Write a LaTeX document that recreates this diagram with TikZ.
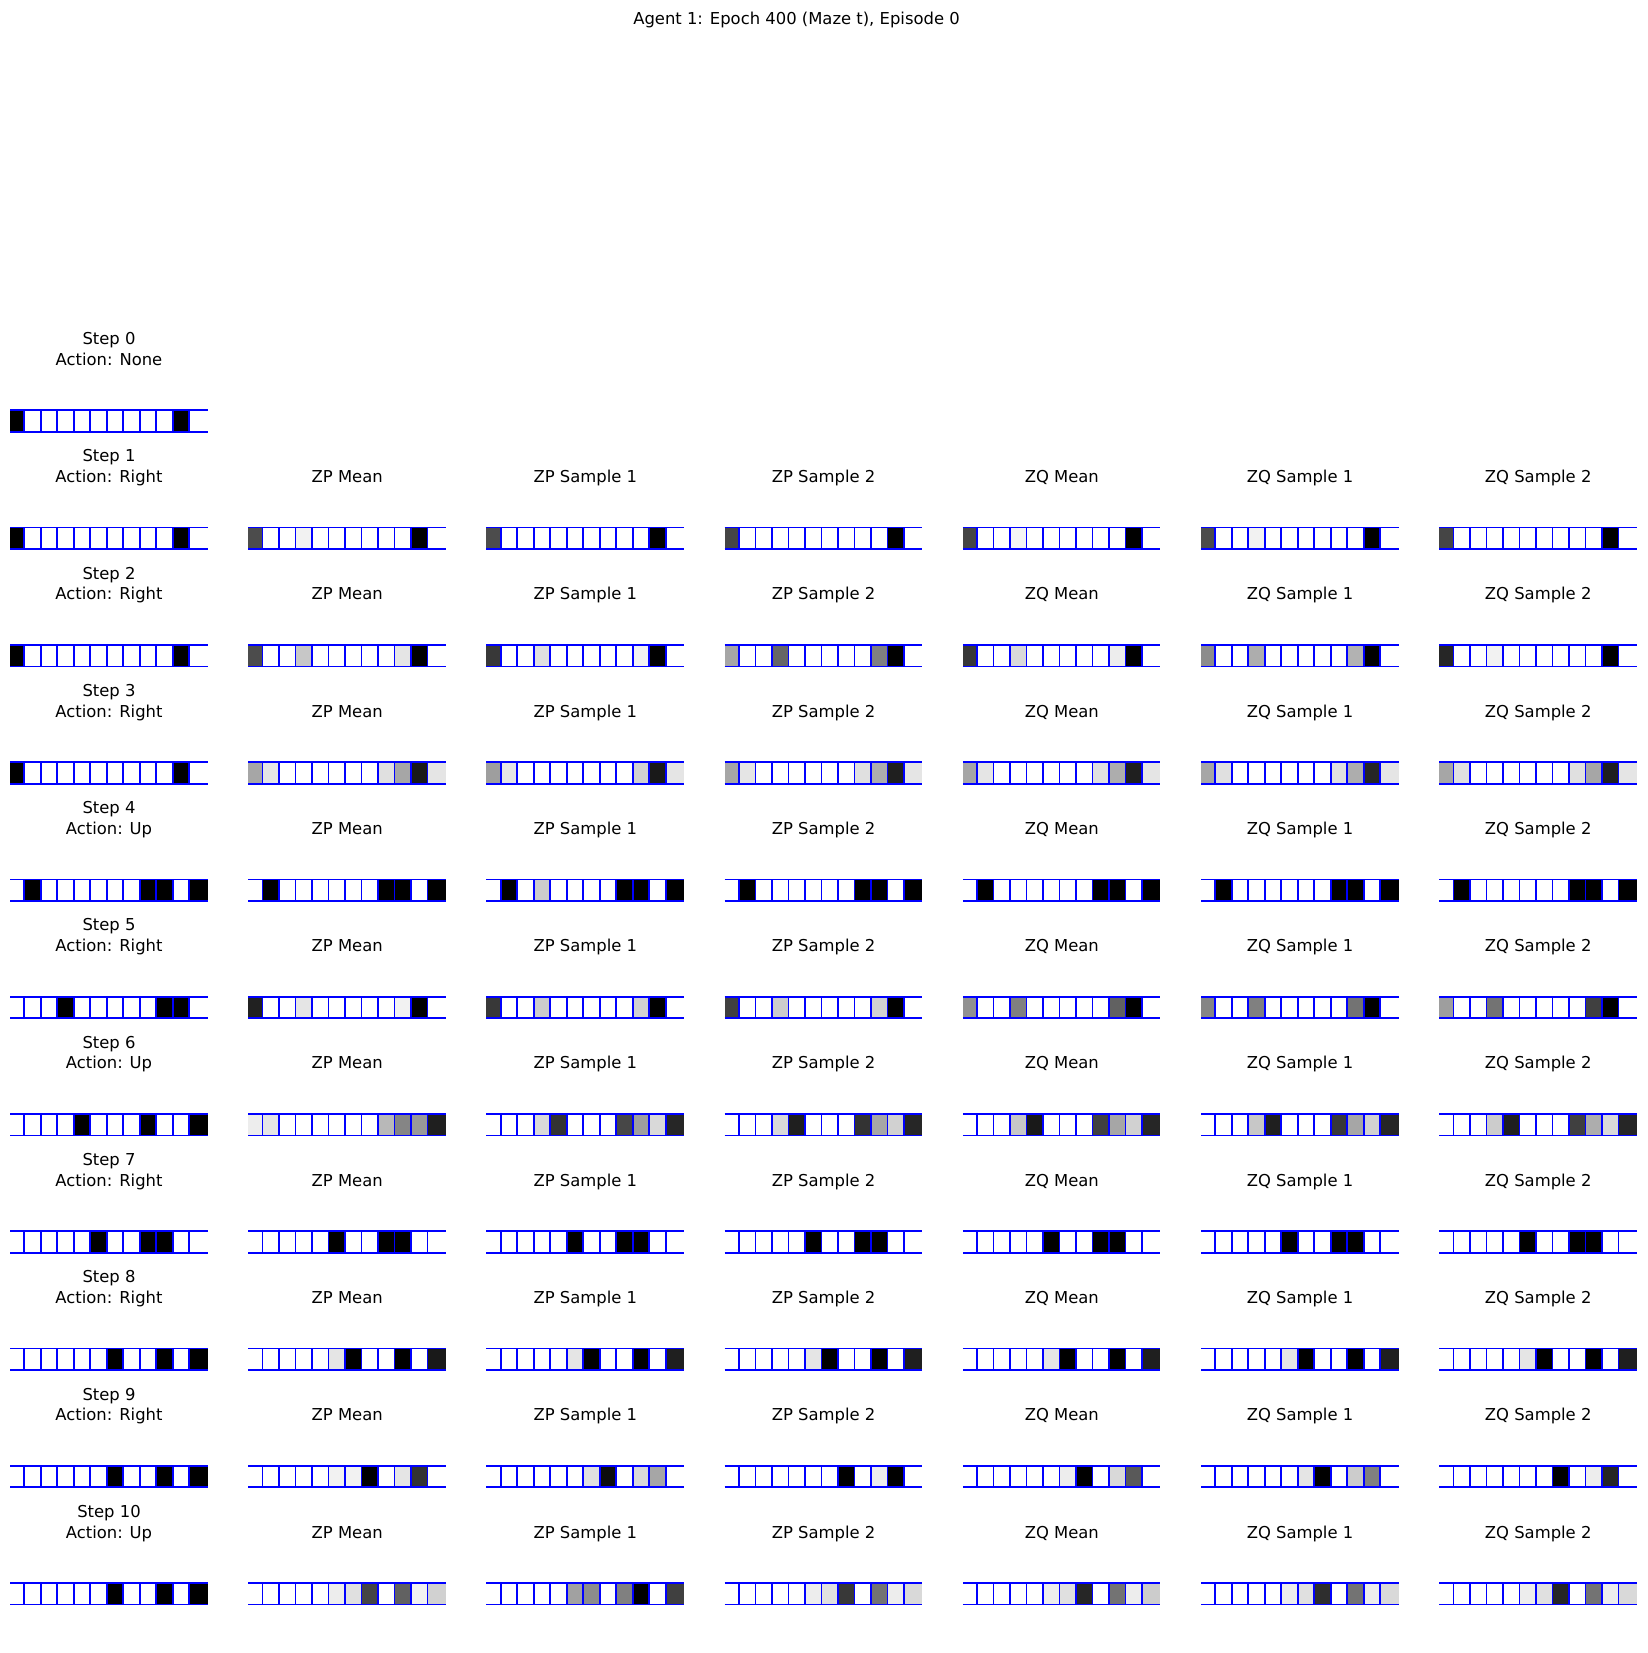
\documentclass[tikz,border=0pt]{standalone}
\usepackage{fontspec}
\setmainfont{DejaVu Sans}
\tikzset{
  gl/.style={draw={rgb,255:red,0;green,0;blue,255}, line width=1.7pt},
  ttl/.style={font=\fontsize{16.4}{20.7}\selectfont, anchor=base, inner sep=0pt}
}
\newcommand\mystrip[3]{%
  \foreach \v [count=\i from 0] in {#3} {%
    \ifnum\v<100\relax
      \pgfmathsetmacro\xa{#1+(\i>0)*(14.3+16.5*(\i-1))}%
      \pgfmathsetmacro\xb{#1+(\i<11)*(14.3+16.5*\i)+(\i==11)*197.5}%
      \fill[white!\v!black] (\xa,{#2}) rectangle (\xb,{#2+21.6});
    \fi
  }%
  \draw[gl] (#1,{#2}) -- ++(197.5,0);
  \draw[gl] (#1,{#2+21.6}) -- ++(197.5,0);
  \foreach \i in {1,...,11} {\draw[gl] ({#1+14.3+16.5*(\i-1)},{#2}) -- ++(0,21.6);}
}
\newcommand\steprow[8]{%
  \pgfmathsetmacro\ytop{410.3+117.27*#1}%
  \mystrip{10}{\ytop}{#2}%
  \mystrip{248.2}{\ytop}{#3}%
  \mystrip{486.4}{\ytop}{#4}%
  \mystrip{724.6}{\ytop}{#5}%
  \mystrip{962.8}{\ytop}{#6}%
  \mystrip{1201}{\ytop}{#7}%
  \mystrip{1439.2}{\ytop}{#8}%
}
\begin{document}
\begin{tikzpicture}[x=1pt,y=-1pt]
\useasboundingbox[fill=white] (0,0) rectangle (1647,1653);
\node[ttl] (title) at (796.5,25) {Agent 1: Epoch 400 (Maze t), Episode 0};
% step titles
\foreach \k/\act in {0/None,1/Right,2/Right,3/Right,4/Up,5/Right,6/Up,7/Right,8/Right,9/Right,10/Up} {
  \pgfmathsetmacro\yb{410.3+117.27*\k-45}
  \node[ttl] (s\k) at (109,{\yb-20.7}) {Step \k};
  \node[ttl] (a\k) at (109,\yb) {Action: \act};
}
% column titles
\foreach \k in {1,...,10} {
  \pgfmathsetmacro\yb{410.3+117.27*\k-45}
  \foreach \t [count=\j] in {ZP Mean,ZP Sample 1,ZP Sample 2,ZQ Mean,ZQ Sample 1,ZQ Sample 2} {
    \node[ttl] (c\k-\j) at ({10+238.2*\j+99},\yb) {\t};
  }
}
% row 0
\mystrip{10}{410.3}{0,100,100,100,100,100,100,100,100,100,0,100}
% rows 1-10
\steprow{1}
 {0,100,100,100,100,100,100,100,100,100,0,100}
 {30,100,100,95,100,100,100,100,100,100,0,100}
 {30,100,100,100,100,100,100,100,100,100,0,100}
 {27,100,100,100,100,100,100,100,100,100,0,100}
 {27,100,100,96,100,100,100,100,100,100,0,100}
 {30,100,100,95,100,100,100,100,100,100,0,100}
 {27,100,100,100,100,100,100,100,100,100,0,100}
\steprow{2}
 {0,100,100,100,100,100,100,100,100,100,0,100}
 {30,100,100,78,100,100,100,100,100,90,0,100}
 {22,100,100,88,100,100,100,100,100,95,0,100}
 {65,100,100,40,100,100,100,100,100,50,0,100}
 {22,100,100,85,100,100,100,100,100,93,0,100}
 {55,100,100,68,100,100,100,100,100,70,0,100}
 {15,100,100,95,100,100,100,100,100,100,0,100}
\steprow{3}
 {0,100,100,100,100,100,100,100,100,100,0,100}
 {65,90,100,100,100,100,100,100,88,65,10,90}
 {62,90,100,100,100,100,100,100,100,82,10,90}
 {65,90,100,100,100,100,100,100,88,68,12,90}
 {65,90,100,100,100,100,100,100,88,68,12,90}
 {65,88,100,100,100,100,100,100,88,68,15,90}
 {65,88,100,100,100,100,100,100,88,65,12,90}
\steprow{4}
 {100,0,100,100,100,100,100,100,0,0,100,0}
 {100,0,100,100,100,100,100,100,0,0,100,0}
 {100,0,100,80,100,100,100,100,0,0,100,0}
 {100,0,100,100,100,100,100,100,0,0,100,0}
 {100,0,100,100,100,100,100,100,0,0,100,0}
 {100,0,100,100,100,100,100,100,0,0,100,0}
 {100,0,100,100,100,100,100,100,0,0,100,0}
\steprow{5}
 {100,100,100,0,100,100,100,100,100,0,0,100}
 {13,100,100,90,100,100,100,100,100,95,0,100}
 {22,100,100,80,100,100,100,100,100,82,0,100}
 {25,100,100,80,100,100,100,100,100,82,0,100}
 {57,100,100,50,100,100,100,100,100,38,0,100}
 {52,100,100,50,100,100,100,100,100,45,0,100}
 {62,100,100,45,100,100,100,100,100,25,0,100}
\steprow{6}
 {100,100,100,100,0,100,100,100,0,100,100,0}
 {93,90,100,100,100,100,100,100,72,52,60,12}
 {100,100,100,85,20,100,100,100,28,62,85,15}
 {100,100,100,85,12,100,100,100,20,65,82,15}
 {100,100,100,78,10,100,100,100,25,65,82,15}
 {100,100,100,78,12,100,100,100,22,65,82,15}
 {100,100,100,80,12,100,100,100,25,68,85,15}
\steprow{7}
 {100,100,100,100,100,0,100,100,0,0,100,100}
 {100,100,100,100,100,0,100,100,0,0,100,100}
 {100,100,100,100,100,0,100,100,0,0,100,100}
 {100,100,100,100,100,0,100,100,0,0,100,100}
 {100,100,100,100,100,0,100,100,0,0,100,100}
 {100,100,100,100,100,0,100,100,0,0,100,100}
 {100,100,100,100,100,0,100,100,0,0,100,100}
\steprow{8}
 {100,100,100,100,100,100,0,100,100,0,100,0}
 {100,100,100,100,100,90,0,100,100,0,100,10}
 {100,100,100,100,100,90,0,100,100,0,100,12}
 {100,100,100,100,100,90,0,100,100,0,100,12}
 {100,100,100,100,100,90,0,100,100,0,100,12}
 {100,100,100,100,100,90,0,100,100,0,100,12}
 {100,100,100,100,100,90,0,100,100,0,100,12}
\steprow{9}
 {100,100,100,100,100,100,0,100,100,0,100,0}
 {100,100,100,100,100,95,95,0,100,90,20,100}
 {100,100,100,100,100,100,88,5,100,85,65,100}
 {100,100,100,100,100,100,100,0,100,93,0,100}
 {100,100,100,100,100,100,93,0,100,85,35,100}
 {100,100,100,100,100,100,90,0,100,80,50,100}
 {100,100,100,100,100,100,100,0,100,93,15,100}
\steprow{10}
 {100,100,100,100,100,100,0,100,100,0,100,0}
 {100,100,100,100,100,93,88,27,100,38,95,82}
 {100,100,100,100,100,63,55,100,50,0,100,25}
 {100,100,100,100,100,93,88,22,100,45,93,85}
 {100,100,100,100,100,93,88,15,100,45,93,80}
 {100,100,100,100,100,93,88,18,100,45,93,85}
 {100,100,100,100,100,93,88,15,100,45,93,85}
\end{tikzpicture}
\end{document}
